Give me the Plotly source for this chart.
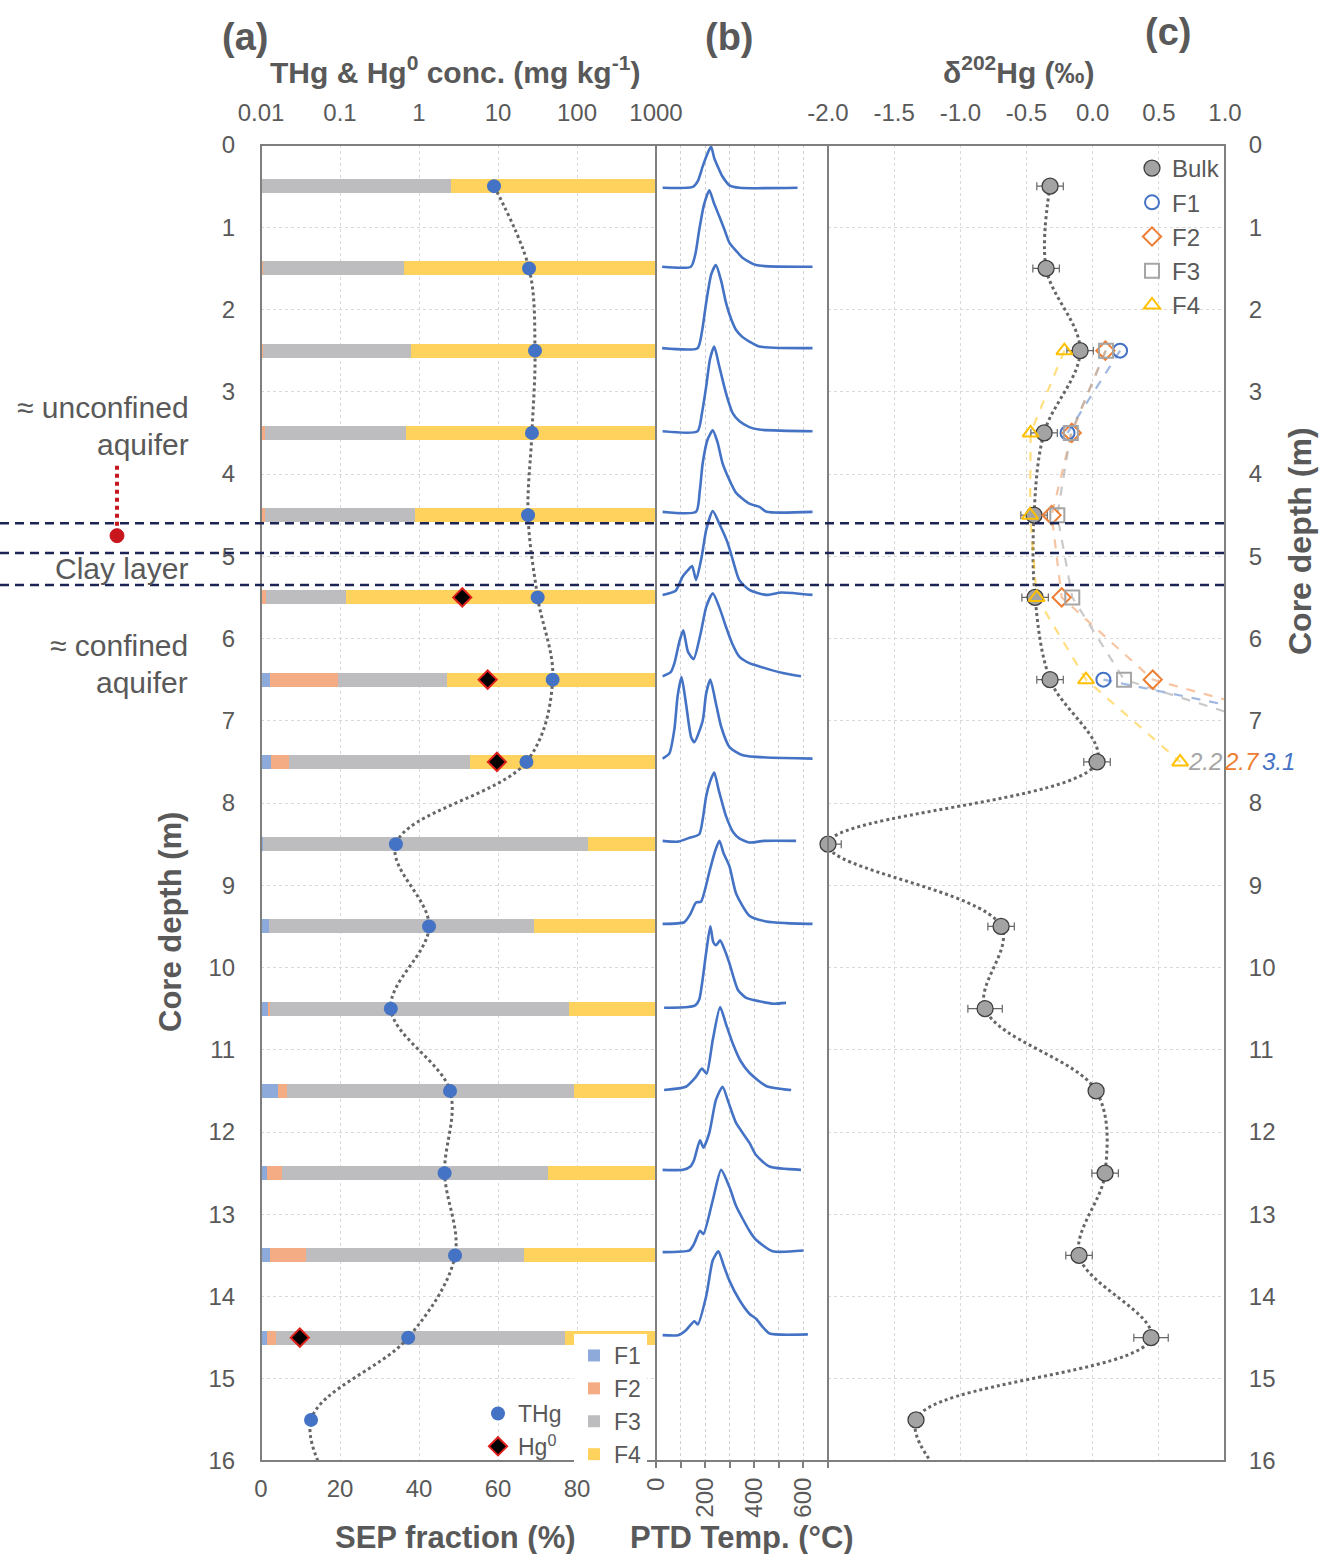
import plotly.graph_objects as go

# ---------------- data ----------------
depth_sep = [0.5, 1.5, 2.5, 3.5, 4.5, 5.5, 6.5, 7.5, 8.5, 9.5, 10.5, 11.5, 12.5, 13.5, 14.5]
sep_f1 = [0.0, 0.0, 0.0, 0.0, 0.0, 0.0, 2.3, 2.5, 0.5, 2.0, 2.0, 4.2, 1.4, 2.4, 1.6]
sep_f2 = [0.0, 0.5, 0.5, 1.0, 1.0, 1.3, 17.1, 4.6, 0.0, 0.0, 0.3, 2.5, 4.0, 8.9, 2.2]
sep_f3 = [48.0, 35.7, 37.5, 35.7, 38.0, 20.1, 27.7, 45.7, 82.3, 67.1, 75.7, 72.6, 67.2, 55.3, 73.2]
sep_f4 = [52.0, 63.8, 62.0, 63.3, 61.0, 78.6, 52.9, 47.2, 17.2, 30.9, 22.0, 20.7, 27.4, 33.4, 23.0]

depth_thg = [0.5, 1.5, 2.5, 3.5, 4.5, 5.5, 6.5, 7.5, 8.5, 9.5, 10.5, 11.5, 12.5, 13.5, 14.5, 15.5, 16.5]
thg = [8.9, 24.7, 29.4, 26.9, 24.0, 31.8, 49.2, 22.9, 0.51, 1.34, 0.44, 2.47, 2.11, 2.86, 0.73, 0.043, 0.10]

depth_hg0 = [5.5, 6.5, 7.5, 14.5]
hg0 = [3.53, 7.4, 9.7, 0.031]

depth_bulk = [0.5, 1.5, 2.5, 3.5, 4.5, 5.5, 6.5, 7.5, 8.5, 9.5, 10.5, 11.5, 12.5, 13.5, 14.5, 15.5, 16.5]
d202_bulk = [-0.322, -0.352, -0.095, -0.367, -0.443, -0.435, -0.322, 0.033, -2.0, -0.692, -0.813,
             0.026, 0.094, -0.103, 0.441, -1.335, -0.95]
d202_err = [0.1, 0.1, 0.1, 0.1, 0.1, 0.1, 0.1, 0.1, 0.1, 0.1, 0.13, 0.05, 0.1, 0.1, 0.13, 0.05, 0.05]

depth_frac = [2.5, 3.5, 4.5, 5.5, 6.5, 7.5]
d202_f1 = [0.207, -0.19, None, None, 0.081, 3.1]
d202_f2 = [0.096, -0.158, -0.31, -0.234, 0.454, 2.7]
d202_f3 = [0.101, -0.165, -0.267, -0.154, 0.237, 2.2]
d202_f4 = [-0.214, -0.469, -0.473, -0.423, -0.05, 0.661]

# PTD thermograms: baseline depth, temperatures (degC) and signal height (in depth units)
ptd_base = [0.52, 1.48, 2.47, 3.48, 4.46, 5.47, 6.46, 7.46, 8.46, 9.47, 10.49, 11.49, 12.46, 13.46, 14.47]
ptd_temp = [
    [27, 150, 170, 190, 210, 224, 237, 251, 270, 299, 340, 576],
    [25, 142, 160, 176, 195, 217, 235, 258, 280, 299, 330, 352, 407, 637],
    [25, 169, 187, 204, 225, 244, 265, 285, 305, 326, 350, 380, 420, 637],
    [27, 169, 187, 204, 220, 237, 255, 278, 295, 312, 340, 380, 420, 637],
    [27, 163, 178, 190, 210, 231, 250, 271, 300, 326, 380, 421, 450, 637],
    [27, 80, 108, 130, 147, 163, 185, 205, 231, 260, 292, 315, 339, 380, 448, 510, 637],
    [27, 60, 75, 95, 111, 130, 153, 180, 205, 231, 260, 285, 310, 339, 380, 421, 516, 590],
    [27, 54, 75, 88, 104, 122, 143, 156, 190, 204, 221, 244, 265, 299, 353, 637],
    [27, 90, 130, 176, 190, 204, 220, 237, 255, 285, 315, 339, 380, 440, 570],
    [27, 115, 140, 163, 183, 217, 240, 258, 275, 299, 326, 380, 448, 530, 637],
    [33, 130, 160, 176, 204, 221, 233, 244, 261, 280, 299, 333, 367, 420, 480, 529],
    [33, 122, 160, 187, 206, 231, 261, 285, 312, 345, 380, 448, 550],
    [27, 110, 140, 155, 179, 193, 217, 244, 271, 295, 326, 380, 407, 462, 590],
    [27, 136, 155, 179, 193, 231, 265, 299, 326, 380, 407, 475, 600],
    [27, 90, 122, 156, 170, 204, 231, 254, 275, 299, 339, 380, 407, 434, 462, 618],
]
ptd_signal = [
    [0, 0.01, 0.08, 0.26, 0.42, 0.50, 0.36, 0.26, 0.14, 0.03, 0, 0],
    [0, 0, 0.15, 0.45, 0.75, 0.93, 0.78, 0.61, 0.44, 0.29, 0.18, 0.11, 0.02, 0],
    [0, 0, 0.2, 0.55, 0.9, 1.01, 0.82, 0.55, 0.36, 0.22, 0.14, 0.08, 0.02, 0],
    [0, 0, 0.22, 0.54, 0.88, 1.03, 0.82, 0.54, 0.36, 0.22, 0.12, 0.05, 0.02, 0],
    [0, 0, 0.25, 0.59, 0.88, 0.99, 0.85, 0.59, 0.38, 0.23, 0.1, 0.06, 0, 0],
    [0, 0.05, 0.22, 0.3, 0.35, 0.18, 0.45, 0.8, 1.02, 0.85, 0.63, 0.4, 0.18, 0.06, 0, 0.03, 0],
    [0, 0.05, 0.16, 0.42, 0.56, 0.3, 0.21, 0.5, 0.85, 1.01, 0.82, 0.6, 0.4, 0.24, 0.16, 0.12, 0.04, 0],
    [0, 0.06, 0.36, 0.76, 0.99, 0.67, 0.26, 0.2, 0.46, 0.79, 0.96, 0.67, 0.39, 0.14, 0.04, 0],
    [0, -0.01, 0.03, 0.08, 0.26, 0.54, 0.72, 0.83, 0.62, 0.3, 0.1, 0.03, -0.02, 0, 0],
    [0, 0.02, 0.12, 0.26, 0.27, 0.63, 0.88, 1.01, 0.86, 0.7, 0.37, 0.1, 0.03, 0.01, 0],
    [0, 0.01, 0.03, 0.1, 0.67, 0.99, 0.8, 0.76, 0.82, 0.7, 0.54, 0.22, 0.12, 0.08, 0.05, 0.06],
    [0, 0.04, 0.15, 0.26, 0.2, 0.61, 1.01, 0.8, 0.57, 0.35, 0.21, 0.05, 0],
    [0, 0, 0.04, 0.12, 0.36, 0.27, 0.45, 0.85, 1.01, 0.82, 0.57, 0.33, 0.18, 0.04, 0],
    [0, 0.02, 0.1, 0.26, 0.22, 0.63, 1.0, 0.79, 0.56, 0.26, 0.15, 0.01, 0.02],
    [0, 0, 0.06, 0.17, 0.13, 0.47, 0.91, 1.02, 0.85, 0.66, 0.43, 0.26, 0.2, 0.1, 0.02, 0.01],
]

depth_ticks = list(range(0, 17))
conc_ticks = [0.01, 0.1, 1, 10, 100, 1000]
conc_ticktext = ["0.01", "0.1", "1", "10", "100", "1000"]
sep_ticks = [0, 20, 40, 60, 80]
temp_ticks = [0, 200, 400, 600]
d202_ticks = [-2.0, -1.5, -1.0, -0.5, 0.0, 0.5, 1.0]
d202_ticktext = ["-2.0", "-1.5", "-1.0", "-0.5", "0.0", "0.5", "1.0"]

clay_lines = [4.6, 4.96, 5.35]

# ---------------- styling ----------------
FONT = "Liberation Sans, Arial, sans-serif"
TXT = "#595959"
GRID = "#d9d9d9"
BORDER = "#7f7f7f"
c_f1, c_f2, c_f3, c_f4 = "#8eaadb", "#f4ac84", "#bdbdbf", "#ffd25e"
m_f1, m_f2, m_f3, m_f4 = "#4472c4", "#ed7d31", "#a5a5a5", "#ffc000"
l_f1, l_f2, l_f3, l_f4 = "rgba(68,114,196,0.5)", "rgba(237,125,49,0.45)", "rgba(165,165,165,0.6)", "rgba(255,192,0,0.5)"

W, H = 1322, 1554
ML, MR, MT, MB = 261, 97, 145, 93
PW = W - ML - MR
PH = H - MT - MB
def px(x):
    return (x - ML) / PW
def py(y):
    return (H - MB - y) / PH

da = px(656)
db = px(828)

fig = go.Figure()

# ---- panel (a) SEP bars ----
for name, vals, col in [("F1", sep_f1, c_f1), ("F2", sep_f2, c_f2), ("F3", sep_f3, c_f3), ("F4", sep_f4, c_f4)]:
    fig.add_trace(go.Bar(y=depth_sep, x=vals, orientation="h", width=0.17, name=name,
                         marker=dict(color=col, line=dict(width=0)), xaxis="x", yaxis="y",
                         legend="legend", hoverinfo="skip"))

# THg line and points
fig.add_trace(go.Scatter(x=thg, y=depth_thg, mode="lines", xaxis="x2", yaxis="y",
                         line=dict(color="#666666", width=3, dash="dot", shape="spline", smoothing=1.0),
                         showlegend=False, hoverinfo="skip"))
fig.add_trace(go.Scatter(x=thg, y=depth_thg, mode="markers", xaxis="x2", yaxis="y", name="THg",
                         marker=dict(color="#4472c4", size=14), legend="legend2"))
fig.add_trace(go.Scatter(x=hg0, y=depth_hg0, mode="markers", xaxis="x2", yaxis="y", name="Hg<sup>0</sup>",
                         marker=dict(color="black", size=14, symbol="diamond", line=dict(color="#e0201b", width=2)),
                         legend="legend2"))

# ---- panel (b) PTD curves ----
for base, temps, sig in zip(ptd_base, ptd_temp, ptd_signal):
    fig.add_trace(go.Scatter(x=temps, y=[base - s for s in sig], mode="lines", xaxis="x3", yaxis="y2",
                             line=dict(color="#4472c4", width=2.6, shape="spline", smoothing=0.6),
                             showlegend=False, hoverinfo="skip"))

# ---- panel (c) d202Hg ----
fig.add_trace(go.Scatter(x=d202_bulk, y=depth_bulk, mode="lines", xaxis="x4", yaxis="y3",
                         line=dict(color="#666666", width=3, dash="dot", shape="spline", smoothing=1.0),
                         showlegend=False, hoverinfo="skip"))
for vals, col in [(d202_f1, l_f1), (d202_f2, l_f2), (d202_f3, l_f3), (d202_f4, l_f4)]:
    fig.add_trace(go.Scatter(x=vals, y=depth_frac, mode="lines", xaxis="x4", yaxis="y3",
                             line=dict(color=col, width=2.2, dash="dash"), connectgaps=False,
                             showlegend=False, hoverinfo="skip"))
fig.add_trace(go.Scatter(x=d202_bulk[:-1], y=depth_bulk[:-1], mode="markers", xaxis="x4", yaxis="y3",
                         name="Bulk", legend="legend3", cliponaxis=False,
                         error_x=dict(type="data", array=d202_err[:-1], color="#666666", thickness=1.2, width=4),
                         marker=dict(color="#a3a3a3", size=16, line=dict(color="#3f3f3f", width=1.3))))
for name, vals, col, sym in [("F1", d202_f1, m_f1, "circle-open"), ("F2", d202_f2, m_f2, "diamond-open"),
                             ("F3", d202_f3, m_f3, "square-open"), ("F4", d202_f4, m_f4, "triangle-up-open")]:
    fig.add_trace(go.Scatter(x=vals, y=depth_frac, mode="markers", xaxis="x4", yaxis="y3", name=name,
                             legend="legend3", marker=dict(color=col, size=14, symbol=sym, line=dict(color=col, width=2))))

# ---------------- layout ----------------
tickfont = dict(family=FONT, size=24, color=TXT)
axis_common = dict(zeroline=False, showline=False, tickfont=tickfont)

shapes = []
for x0, x1 in [(0, da), (da, db), (db, 1)]:
    shapes.append(dict(type="rect", xref="paper", yref="paper", x0=x0, x1=x1, y0=0, y1=1,
                       line=dict(color=BORDER, width=2), layer="above"))
for d in clay_lines:
    shapes.append(dict(type="line", xref="paper", yref="y", x0=px(0), x1=1, y0=d, y1=d,
                       line=dict(color="#1c2456", width=2.5, dash="9px,6px"), layer="above"))
shapes.append(dict(type="line", xref="paper", yref="y", x0=px(117), x1=px(117), y0=3.9, y1=4.66,
                   line=dict(color="#c8161d", width=4, dash="dot")))
shapes.append(dict(type="circle", xref="paper", yref="y", xsizemode="pixel", ysizemode="pixel",
                   xanchor=px(117), yanchor=4.75, x0=-7, x1=7, y0=-7, y1=7,
                   fillcolor="#c8161d", line=dict(color="#c8161d", width=1)))

def ann(text, x, y, size=26, bold=False, xanchor="center", yanchor="middle", angle=0, color=TXT, yref="paper"):
    t = f"<b>{text}</b>" if bold else text
    return dict(text=t, x=x, y=y, xref="paper", yref=yref, showarrow=False, xanchor=xanchor, yanchor=yanchor,
                textangle=angle, font=dict(family=FONT, size=size, color=color))

annotations = [
    ann("(a)", px(245), py(37), size=38, bold=True),
    ann("(b)", px(729), py(37), size=38, bold=True),
    ann("(c)", px(1168), py(32), size=38, bold=True),
    ann("THg &amp; Hg<sup>0</sup> conc. (mg kg<sup>-1</sup>)", px(455), py(70), size=30, bold=True),
    ann("δ<sup>202</sup>Hg (‰)", px(1019), py(70), size=30, bold=True),
    ann("SEP fraction (%)", px(455), py(1537), size=31, bold=True),
    ann("PTD Temp. (°C)", px(742), py(1537), size=31, bold=True),
    ann("Core depth (m)", px(170), py(922), size=31, bold=True, angle=-90),
    ann("Core depth (m)", px(1300), py(541), size=32, bold=True, angle=-90),
    ann("≈ unconfined", px(191), py(408), size=30, xanchor="right"),
    ann("aquifer", px(191), py(445), size=30, xanchor="right"),
    ann("Clay layer", px(121), py(568), size=30),
    ann("≈ confined", px(190), py(645), size=30, xanchor="right"),
    ann("aquifer", px(190), py(682), size=30, xanchor="right"),
    ann(f"<i>{d202_f3[-1]:.1f}</i>", px(1205), depth_frac[-1], size=24, color=m_f3, yref="y"),
    ann(f"<i>{d202_f2[-1]:.1f}</i>", px(1242), depth_frac[-1], size=24, color=m_f2, yref="y"),
    ann(f"<i>{d202_f1[-1]:.1f}</i>", px(1278), depth_frac[-1], size=24, color=m_f1, yref="y"),
]

fig.update_layout(
    width=W, height=H,
    margin=dict(l=ML, r=MR, t=MT, b=MB, autoexpand=False),
    paper_bgcolor="white", plot_bgcolor="white",
    font=dict(family=FONT, color=TXT),
    barmode="stack", bargap=0,
    xaxis=dict(domain=[0, da], range=[0, 100], anchor="y", tickvals=sep_ticks,
               ticks="outside", ticklen=6, tickcolor="rgba(0,0,0,0)",
               showgrid=True, gridcolor=GRID, griddash="dot", gridwidth=1, **axis_common),
    xaxis2=dict(type="log", range=[-2, 3], overlaying="x", side="top", anchor="y",
                tickvals=conc_ticks, ticktext=conc_ticktext, ticks="outside", ticklen=13,
                tickcolor="rgba(0,0,0,0)", showgrid=False, **axis_common),
    yaxis=dict(domain=[0, 1], range=[16, 0], anchor="x", tickvals=depth_ticks, ticks="outside",
               ticklen=20, tickcolor="rgba(0,0,0,0)", showgrid=True, gridcolor=GRID, griddash="dot",
               gridwidth=1, **axis_common),
    xaxis3=dict(domain=[da, db], range=[0, 700], anchor="y2", tickvals=temp_ticks,
                tickangle=-90, ticks="outside", ticklen=6, tickcolor=BORDER, tickwidth=1.5,
                showgrid=True, gridcolor="#cfcfcf", griddash="dot", gridwidth=1,
                minor=dict(dtick=100, tick0=0, ticks="outside", ticklen=6, tickcolor=BORDER,
                           showgrid=True, gridcolor="#cfcfcf", griddash="dot", gridwidth=1),
                **axis_common),
    yaxis2=dict(domain=[0, 1], range=[16, 0], anchor="x3", showticklabels=False, showgrid=False,
                ticks="", zeroline=False, showline=False),
    xaxis4=dict(domain=[db, 1], range=[-2, 1], anchor="y3", side="top", tickvals=d202_ticks,
                ticktext=d202_ticktext, ticks="outside", ticklen=13, tickcolor="rgba(0,0,0,0)",
                showgrid=True, gridcolor=GRID, griddash="dot", gridwidth=1, **axis_common),
    yaxis3=dict(domain=[0, 1], range=[16, 0], anchor="x4", side="right", tickvals=depth_ticks,
                ticks="outside", ticklen=18, tickcolor="rgba(0,0,0,0)", showgrid=True, gridcolor=GRID,
                griddash="dot", gridwidth=1, **axis_common),
    legend=dict(x=px(574), y=py(1334), xanchor="left", yanchor="top", bgcolor="white",
                font=dict(family=FONT, size=23, color=TXT), traceorder="normal",
                tracegroupgap=0, itemwidth=30, borderwidth=0),
    legend2=dict(x=px(478), y=py(1392), xanchor="left", yanchor="top", bgcolor="rgba(0,0,0,0)",
                 font=dict(family=FONT, size=23, color=TXT), traceorder="normal",
                 tracegroupgap=0, itemwidth=30),
    legend3=dict(x=px(1132), y=py(146), xanchor="left", yanchor="top", bgcolor="rgba(0,0,0,0)",
                 font=dict(family=FONT, size=24, color=TXT), traceorder="normal",
                 tracegroupgap=0, itemwidth=30),
    shapes=shapes,
    annotations=annotations,
    hovermode=False,
)

fig.write_html("out.html", config={"displayModeBar": False},
               post_script="document.body.style.margin='0';")
